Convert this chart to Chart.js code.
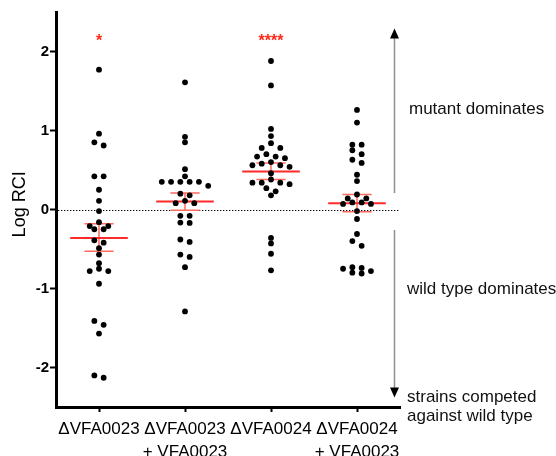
<!DOCTYPE html>
<html><head><meta charset="utf-8">
<script src="https://cdn.jsdelivr.net/npm/chart.js@4"></script>
<style>html,body{margin:0;padding:0;background:#fff;}</style>
</head><body>
<canvas id="c" width="556" height="456"></canvas>
<script>
// ---- data ----
const categories = [['ΔVFA0023'], ['ΔVFA0023', '+ VFA0023'], ['ΔVFA0024'], ['ΔVFA0024', '+ VFA0023']];
const dVFA0023 = [1.77, 0.96, 0.85, 0.81, 0.42, 0.42, 0.25, 0.11, -0.02, -0.16, -0.21, -0.21, -0.25, -0.25,
  -0.39, -0.42, -0.49, -0.57, -0.68, -0.75, -0.78, -0.78, -0.94, -1.41, -1.46, -1.57, -2.10, -2.13];
const dVFA0023comp = [1.61, 0.92, 0.85, 0.51, 0.42, 0.35, 0.35, 0.35, 0.35, 0.35, 0.30, 0.20, 0.18, 0.11,
  0.08, 0.08, -0.08, -0.08, -0.165, -0.17, -0.38, -0.41, -0.57, -0.60, -0.73, -1.29];
const dVFA0024 = [1.88, 1.57, 1.02, 0.93, 0.84, 0.78, 0.78, 0.70, 0.67, 0.67, 0.65, 0.60, 0.58, 0.56, 0.56,
  0.54, 0.46, 0.38, 0.34, 0.34, 0.34, 0.32, 0.27, 0.23, 0.18, -0.36, -0.43, -0.56, -0.77];
const dVFA0024comp = [1.26, 1.10, 0.82, 0.82, 0.75, 0.70, 0.63, 0.59, 0.44, 0.36, 0.19, 0.14, 0.14, 0.09,
  0.09, 0.07, 0.07, -0.02, -0.12, -0.31, -0.40, -0.46, -0.73, -0.74, -0.75, -0.78, -0.80, -0.81];
const groupMeans = [-0.36, 0.10, 0.48, 0.08];
const semUpper = [-0.18, 0.21, 0.59, 0.19];
const semLower = [-0.53, -0.01, 0.38, -0.03];
const sigMarks = ['*', '', '****', ''];
const yTicks = [-2, -1, 0, 1, 2];
const yTitle = 'Log RCI';
const sideNotes = ['mutant dominates', 'wild type dominates', 'strains competed', 'against wild type'];

const FONT = "'Liberation Sans', Arial, Helvetica, sans-serif";
const groups = [dVFA0023, dVFA0023comp, dVFA0024, dVFA0024comp];

// ---- column-scatter (beeswarm) layout ----
const LANE = 0.108, PX_X = 86, PX_Y = 79, DOT = 5.2, GAP = 0.065;
function swarm(vals, ci) {
  const s = vals.slice().sort((a, b) => b - a);
  const placed = [];
  let i = 0;
  while (i < s.length) {
    const row = [s[i]];
    let j = i + 1;
    while (j < s.length && s[i] - s[j] < GAP) { row.push(s[j]); j++; }
    const n = row.length;
    const cands = [];
    for (let k = 0; k < 20; k++) {
      const b = (n % 2) ? k : k + 0.5;
      if (b === 0) cands.push(0); else cands.push(-b, b);
    }
    const used = new Set();
    row.forEach(v => {
      for (const c of cands) {
        if (used.has(c)) continue;
        const hit = placed.some(p => Math.hypot((p.lane - c) * LANE * PX_X, (p.v - v) * PX_Y) < DOT);
        if (!hit) { used.add(c); placed.push({ lane: c, v }); break; }
      }
    });
    i = j;
  }
  return placed.map(p => ({ x: ci + p.lane * LANE, y: p.v }));
}

const meanData = [], errData = [];
groupMeans.forEach((m, i) => {
  meanData.push({ x: i - 0.335, y: m }, { x: i + 0.335, y: m }, { x: i, y: null });
  errData.push({ x: i - 0.17, y: semUpper[i] }, { x: i + 0.17, y: semUpper[i] }, { x: i, y: null });
  errData.push({ x: i - 0.17, y: semLower[i] }, { x: i + 0.17, y: semLower[i] }, { x: i, y: null });
  errData.push({ x: i, y: semUpper[i] }, { x: i, y: semLower[i] }, { x: i, y: null });
});

const datasets = groups.map((g, i) => ({
  type: 'scatter', data: swarm(g, i), pointRadius: 2.9, pointBackgroundColor: '#000',
  pointBorderWidth: 0, order: 0
}));
datasets.push({ type: 'line', data: errData, borderColor: '#ff6a5c', borderWidth: 1.5, pointRadius: 0, spanGaps: false, order: 2 });
datasets.push({ type: 'line', data: meanData, borderColor: '#ff2b2b', borderWidth: 2, pointRadius: 0, spanGaps: false, order: 1 });

const decor = {
  id: 'decor',
  beforeDatasetsDraw(chart) {
    const { ctx, chartArea: a, scales: { y } } = chart;
    const y0 = Math.round(y.getPixelForValue(0)) + 0.5;
    ctx.save();
    ctx.strokeStyle = '#000'; ctx.lineWidth = 1.2; ctx.setLineDash([1.3, 1.7]);
    ctx.beginPath(); ctx.moveTo(a.left + 2, y0); ctx.lineTo(a.right, y0); ctx.stroke();
    ctx.restore();
  },
  afterDraw(chart) {
    const { ctx, chartArea: a, scales: { x, y } } = chart;
    ctx.save();
    // y-axis title
    ctx.save();
    ctx.translate(24.5, y.getPixelForValue(0.065));
    ctx.rotate(-Math.PI / 2);
    ctx.fillStyle = '#000'; ctx.font = '18px ' + FONT; ctx.textAlign = 'center'; ctx.textBaseline = 'alphabetic';
    ctx.fillText(yTitle, 0, 0);
    ctx.restore();
    // significance marks
    ctx.fillStyle = '#ff2a1a'; ctx.font = 'bold 16px ' + FONT; ctx.textAlign = 'center'; ctx.textBaseline = 'middle';
    sigMarks.forEach((s, i) => { if (s) ctx.fillText(s, x.getPixelForValue(i), y.getPixelForValue(2.12)); });
    // arrow
    const ax = Math.round(x.getPixelForValue(3.43)) + 0.5;
    const top = y.getPixelForValue(2.29), gT = y.getPixelForValue(0.21), gB = y.getPixelForValue(-0.26), bot = y.getPixelForValue(-2.38);
    ctx.strokeStyle = '#8f8f8f'; ctx.lineWidth = 1.5;
    ctx.beginPath(); ctx.moveTo(ax, top + 8); ctx.lineTo(ax, gT); ctx.moveTo(ax, gB); ctx.lineTo(ax, bot - 8); ctx.stroke();
    ctx.fillStyle = '#000';
    ctx.beginPath(); ctx.moveTo(ax, top); ctx.lineTo(ax - 4.5, top + 10); ctx.lineTo(ax + 4.5, top + 10); ctx.closePath(); ctx.fill();
    ctx.beginPath(); ctx.moveTo(ax, bot); ctx.lineTo(ax - 4.5, bot - 10); ctx.lineTo(ax + 4.5, bot - 10); ctx.closePath(); ctx.fill();
    // side notes
    ctx.fillStyle = '#111'; ctx.font = '17px ' + FONT; ctx.textAlign = 'left'; ctx.textBaseline = 'middle';
    ctx.fillText(sideNotes[0], a.right + 9, 109);
    ctx.fillText(sideNotes[1], a.right + 7, 289);
    ctx.fillText(sideNotes[2], a.right + 7, 397);
    ctx.fillText(sideNotes[3], a.right + 7, 416);
    ctx.restore();
  }
};

new Chart(document.getElementById('c'), {
  data: { datasets },
  plugins: [decor],
  options: {
    responsive: false, animation: false, devicePixelRatio: 1,
    layout: { padding: { left: 0, right: 156, top: 12, bottom: 0 } },
    plugins: { legend: { display: false }, tooltip: { enabled: false } },
    scales: {
      x: {
        type: 'linear', min: -0.5, max: 3.5,
        afterBuildTicks: s => { s.ticks = categories.map((c, i) => ({ value: i })); },
        afterFit: s => { s.height = 49; },
        ticks: { callback: v => categories[v], color: '#000', font: { family: FONT, size: 17, lineHeight: 1.35 }, padding: 6, maxRotation: 0, autoSkip: false },
        grid: { drawOnChartArea: false, drawTicks: true, tickLength: 5, tickWidth: 2, tickColor: '#000' },
        border: { display: true, color: '#000', width: 3 }
      },
      y: {
        type: 'linear', min: -2.5, max: 2.5,
        afterBuildTicks: s => { s.ticks = yTicks.map(v => ({ value: v })); },
        afterFit: s => { s.width = 56; },
        ticks: { color: '#000', font: { family: FONT, size: 15, weight: 'bold' }, padding: 1 },
        grid: { drawOnChartArea: false, drawTicks: true, tickLength: 6, tickWidth: 2, tickColor: '#000' },
        border: { display: true, color: '#000', width: 3 }
      }
    }
  }
});
</script>
</body></html>
